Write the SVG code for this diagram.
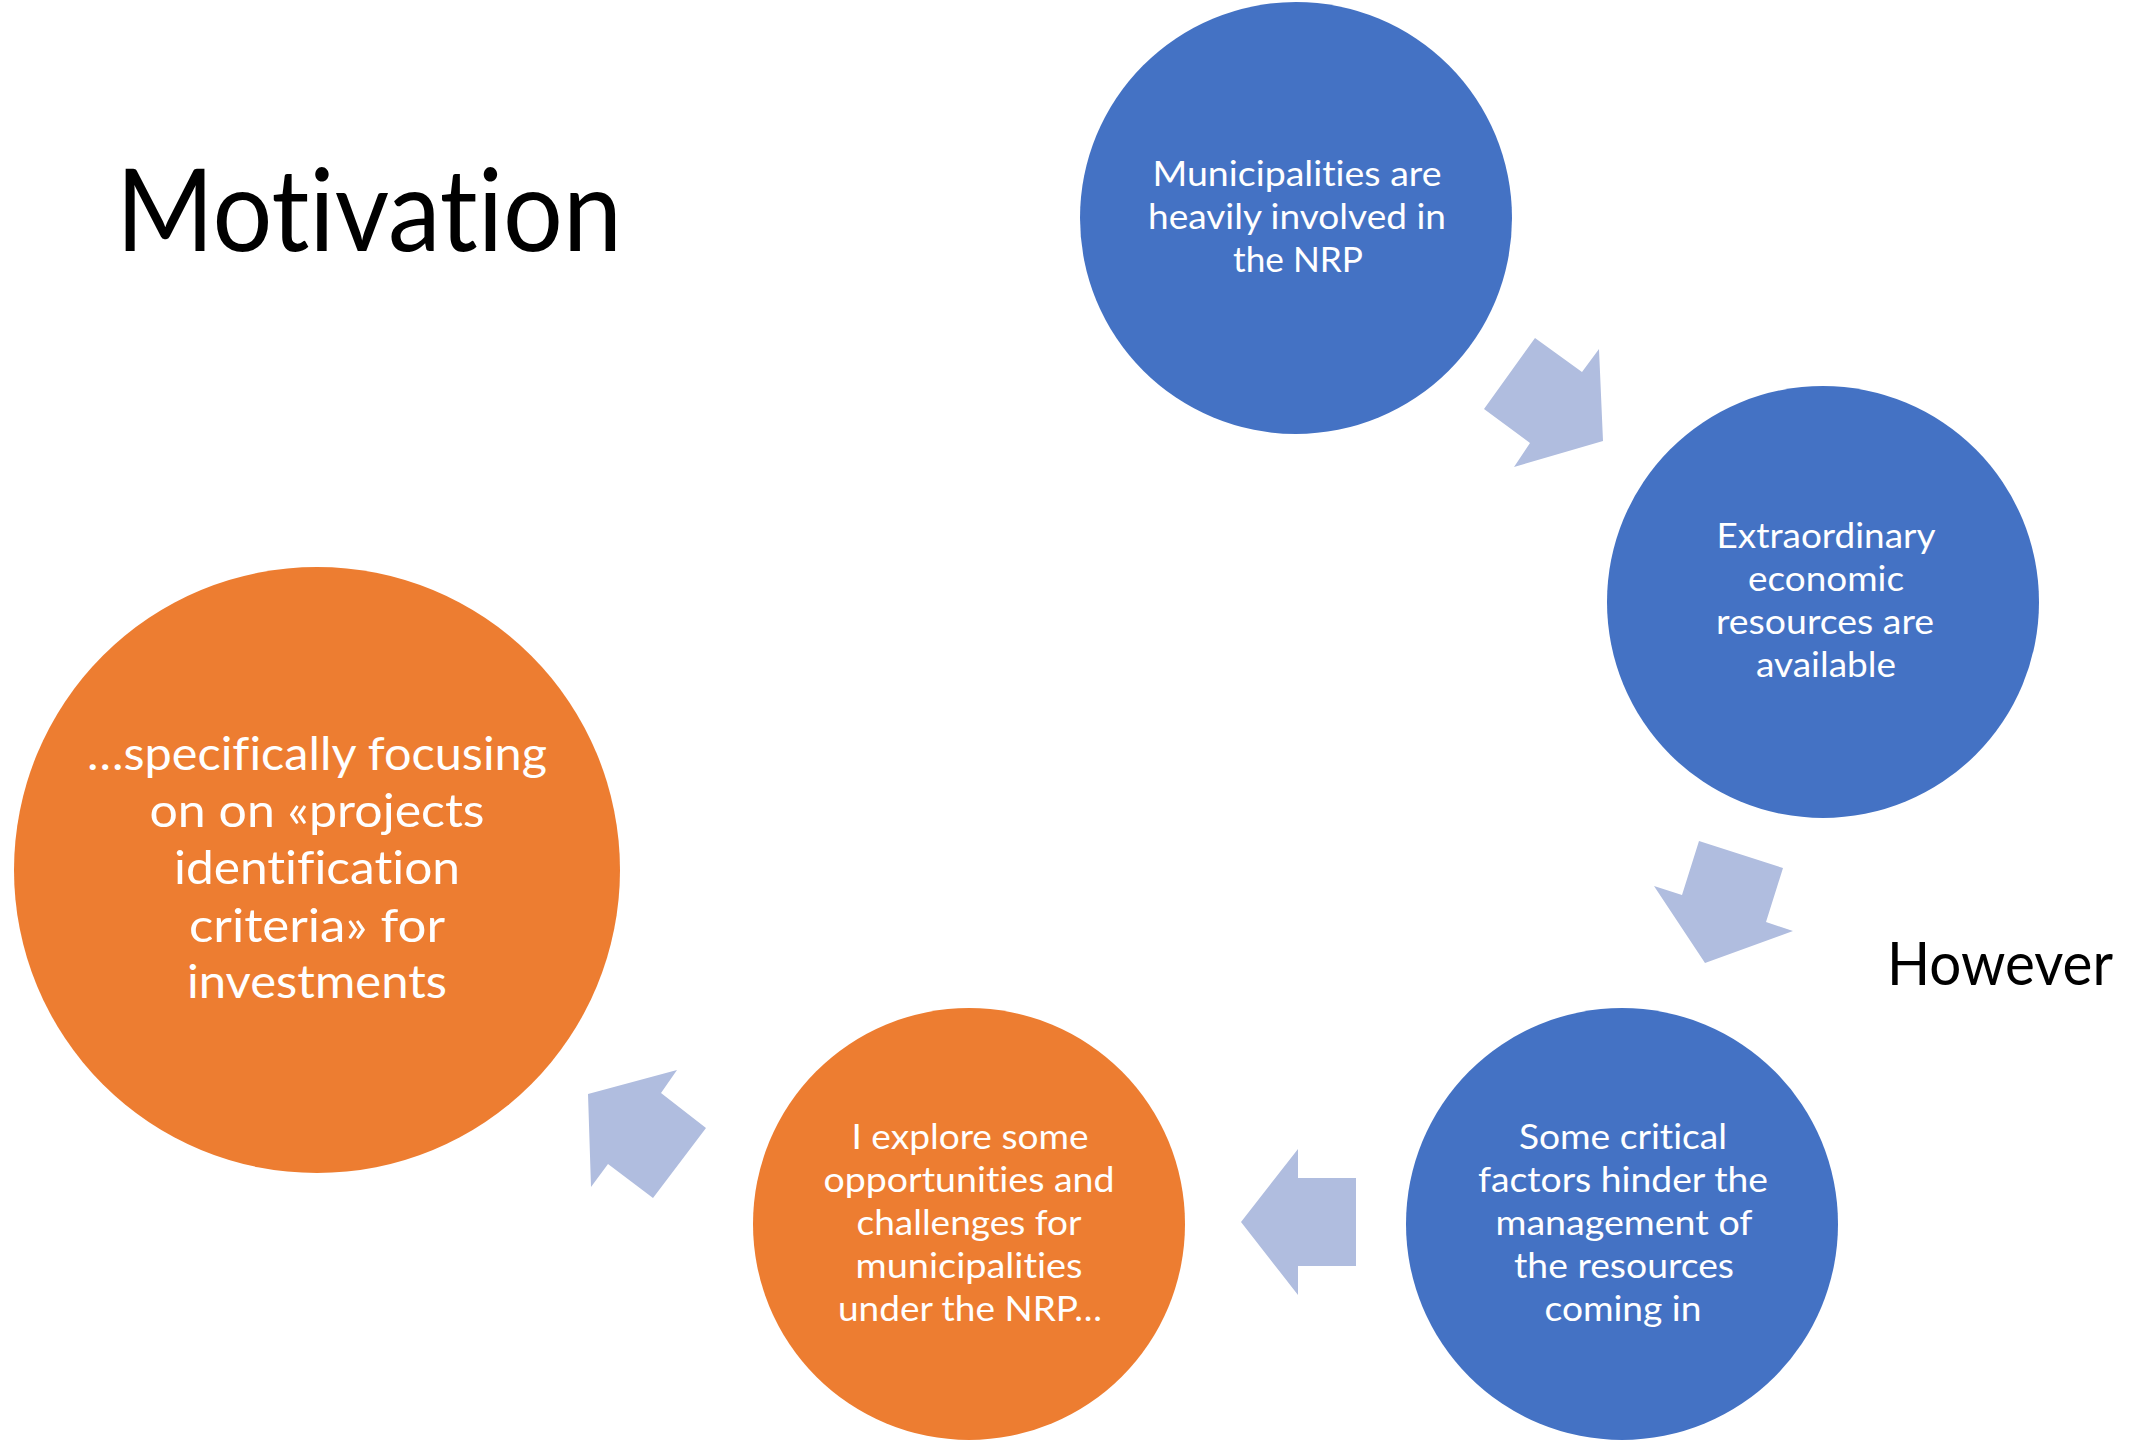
<svg xmlns="http://www.w3.org/2000/svg" width="2131" height="1440" viewBox="0 0 2131 1440">
<style>
.blue{fill:#4472C4}
.orange{fill:#ED7D31}
.arrow{fill:#B0BDDF}
text{font-family:Lato,"Open Sans","Liberation Sans",sans-serif;font-variant-ligatures:none;font-feature-settings:"liga" 0,"dlig" 0}
.lbl{fill:#FFFFFF;font-size:35px;text-anchor:middle}
.big{fill:#FFFFFF;font-size:47px;text-anchor:middle}
.title{fill:#000000}
</style>
<rect width="2131" height="1440" fill="#FFFFFF"/>
<text class="title" x="116" y="251" font-size="115" textLength="506" lengthAdjust="spacingAndGlyphs">Motivation</text>
<text class="title" x="1887" y="985" font-size="60" textLength="226" lengthAdjust="spacingAndGlyphs">However</text>
<g id="connectors">
<polygon class="arrow" points="1535,338 1582,372 1599,349 1603,441 1514,467 1530,443 1484,409"/>
<polygon class="arrow" points="1699,841 1783,868 1766,922 1793,931 1705,963 1654,886 1682,895"/>
<polygon class="arrow" points="1298,1149 1298,1178 1356,1178 1356,1266 1298,1266 1298,1295 1241,1222"/>
<polygon class="arrow" points="677,1070 661,1093 706,1128 653,1198 608,1164 591,1187 588,1094"/>
</g>
<g id="node1">
<circle class="blue" cx="1296" cy="218" r="216"/>
<text class="lbl" x="1297" y="186" textLength="289" lengthAdjust="spacingAndGlyphs">Municipalities are</text>
<text class="lbl" x="1297" y="229" textLength="298" lengthAdjust="spacingAndGlyphs">heavily involved in</text>
<text class="lbl" x="1298" y="272" textLength="130" lengthAdjust="spacingAndGlyphs">the NRP</text>
</g>
<g id="node2">
<circle class="blue" cx="1823" cy="602" r="216"/>
<text class="lbl" x="1826" y="548" textLength="219" lengthAdjust="spacingAndGlyphs">Extraordinary</text>
<text class="lbl" x="1826" y="591" textLength="156" lengthAdjust="spacingAndGlyphs">economic</text>
<text class="lbl" x="1825" y="634" textLength="218" lengthAdjust="spacingAndGlyphs">resources are</text>
<text class="lbl" x="1826" y="677" textLength="140" lengthAdjust="spacingAndGlyphs">available</text>
</g>
<g id="node3">
<circle class="blue" cx="1622" cy="1224" r="216"/>
<text class="lbl" x="1623" y="1149" textLength="208" lengthAdjust="spacingAndGlyphs">Some critical</text>
<text class="lbl" x="1623" y="1192" textLength="290" lengthAdjust="spacingAndGlyphs">factors hinder the</text>
<text class="lbl" x="1624" y="1235" textLength="257" lengthAdjust="spacingAndGlyphs">management of</text>
<text class="lbl" x="1624" y="1278" textLength="220" lengthAdjust="spacingAndGlyphs">the resources</text>
<text class="lbl" x="1623" y="1321" textLength="157" lengthAdjust="spacingAndGlyphs">coming in</text>
</g>
<g id="node4">
<circle class="orange" cx="969" cy="1224" r="216"/>
<text class="lbl" x="970" y="1149" textLength="237" lengthAdjust="spacingAndGlyphs">I explore some</text>
<text class="lbl" x="969" y="1192" textLength="291" lengthAdjust="spacingAndGlyphs">opportunities and</text>
<text class="lbl" x="969" y="1235" textLength="225" lengthAdjust="spacingAndGlyphs">challenges for</text>
<text class="lbl" x="969" y="1278" textLength="227" lengthAdjust="spacingAndGlyphs">municipalities</text>
<text class="lbl" x="970" y="1321" textLength="264" lengthAdjust="spacingAndGlyphs">under the NRP…</text>
</g>
<g id="node5">
<circle class="orange" cx="317" cy="870" r="303"/>
<text class="big" x="317" y="770" textLength="460" lengthAdjust="spacingAndGlyphs">…specifically focusing</text>
<text class="big" x="317" y="827" textLength="335" lengthAdjust="spacingAndGlyphs">on on «projects</text>
<text class="big" x="317" y="884" textLength="286" lengthAdjust="spacingAndGlyphs">identification</text>
<text class="big" x="317" y="942" textLength="256" lengthAdjust="spacingAndGlyphs">criteria» for</text>
<text class="big" x="317" y="998" textLength="260" lengthAdjust="spacingAndGlyphs">investments</text>
</g>
</svg>
